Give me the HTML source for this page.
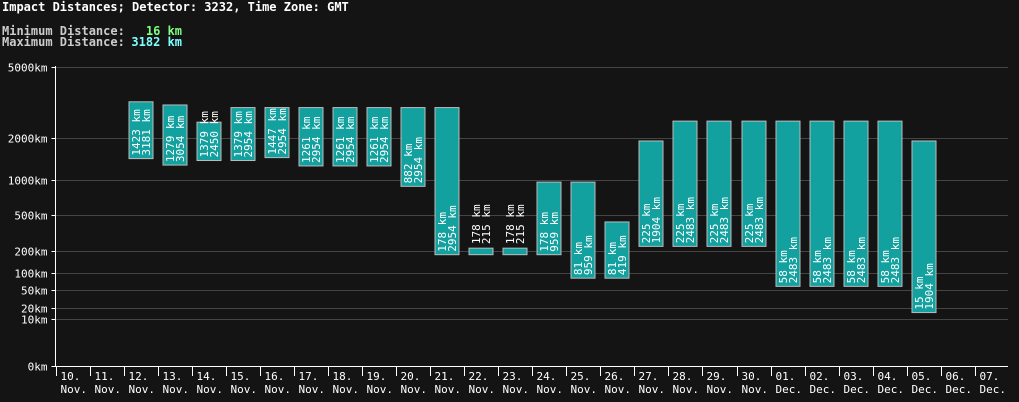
<!DOCTYPE html>
<html><head><meta charset="utf-8">
<style>
html,body{margin:0;padding:0;background:#141414;}
svg{display:block;font-family:"DejaVu Sans Mono","Liberation Mono",monospace;}
</style></head>
<body>
<svg id="chart" width="1019" height="402" viewBox="0 0 1019 402" xmlns="http://www.w3.org/2000/svg">
<rect x="0" y="0" width="1019" height="402" fill="#141414"/>
<text x="2" y="11" fill="#ffffff" font-size="12" font-weight="bold">Impact Distances; Detector: 3232, Time Zone: GMT</text>
<text x="2" y="35" fill="#cccccc" font-size="12" font-weight="bold">Minimum Distance:</text>
<text x="182" y="35" fill="#7fff7f" font-size="12" font-weight="bold" text-anchor="end">16 km</text>
<text x="2" y="46" fill="#cccccc" font-size="12" font-weight="bold">Maximum Distance:</text>
<text x="182" y="46" fill="#7fffff" font-size="12" font-weight="bold" text-anchor="end">3182 km</text>
<g id="grid"></g>
<g id="bars"></g>
<g id="axes"></g>
</svg>
<script>
const categories=["10.","11.","12.","13.","14.","15.","16.","17.","18.","19.","20.","21.","22.","23.","24.","25.","26.","27.","28.","29.","30.","01.","02.","03.","04.","05.","06.","07."];
const months=["Nov.","Nov.","Nov.","Nov.","Nov.","Nov.","Nov.","Nov.","Nov.","Nov.","Nov.","Nov.","Nov.","Nov.","Nov.","Nov.","Nov.","Nov.","Nov.","Nov.","Nov.","Dec.","Dec.","Dec.","Dec.","Dec.","Dec.","Dec."];
const minValues=[null,null,1423,1279,1379,1379,1447,1261,1261,1261,882,178,178,178,178,81,81,225,225,225,225,58,58,58,58,15,null,null];
const maxValues=[null,null,3181,3054,2450,2954,2954,2954,2954,2954,2954,2954,215,215,959,959,419,1904,2483,2483,2483,2483,2483,2483,2483,1904,null,null];
const tickValues=[0,10,20,50,100,200,500,1000,2000,5000];
const tickLabels=["0km","10km","20km","50km","100km","200km","500km","1000km","2000km","5000km"];

const NS="http://www.w3.org/2000/svg";
const tickPix=[366,319,308,290,273,251,215,180,138,66.5];
const X0=55.5,CW=34.05;
function yScale(v){
  if(v<=0)return tickPix[0];
  if(v<=tickValues[1])return tickPix[0]+(tickPix[1]-tickPix[0])*v/tickValues[1];
  for(let i=1;i<tickValues.length-1;i++){
    if(v<=tickValues[i+1]||i==tickValues.length-2){
      const t=Math.log(v/tickValues[i])/Math.log(tickValues[i+1]/tickValues[i]);
      return tickPix[i]+(tickPix[i+1]-tickPix[i])*t;
    }
  }
}
function xScale(i){return X0+i*CW;}
function mk(tag,attrs,parent){const e=document.createElementNS(NS,tag);for(const k in attrs)e.setAttribute(k,attrs[k]);parent.appendChild(e);return e;}
const grid=document.getElementById('grid'),bars=document.getElementById('bars'),axes=document.getElementById('axes');
const xEnd=1008;
tickValues.forEach((v,i)=>{
  const y=Math.round(yScale(v))+0.5;
  if(i>0){
    const gl=mk('line',{x1:X0,x2:xEnd,y1:y,y2:y,stroke:'#444','stroke-width':1},grid);
    
    
  }
  const tk=mk('line',{x1:X0-4,x2:X0,y1:y,y2:y,stroke:'#fff'},axes);
  
  
  const t=mk('text',{x:X0-8,y:y+4,fill:'#fff','font-size':11,'text-anchor':'end'},axes);
  t.textContent=tickLabels[i];
  
  
});
const ya=mk('line',{x1:X0,x2:X0,y1:66,y2:366,stroke:'#fff'},axes);


const xa=mk('line',{x1:X0,x2:xEnd,y1:366.5,y2:366.5,stroke:'#fff'},axes);


categories.forEach((c,i)=>{
  const x=Math.round(xScale(i))+0.5;
  const tk=mk('line',{x1:x,x2:x,y1:366,y2:376,stroke:'#fff'},axes);
  
  
  const t1=mk('text',{x:x+4,y:380,fill:'#fff','font-size':11},axes);
  t1.textContent=c;
  
  
  const t2=mk('text',{x:x+4,y:393,fill:'#fff','font-size':11},axes);
  t2.textContent=months[i];
  
  
  if(minValues[i]==null)return;
  const yt=yScale(maxValues[i]),yb=yScale(minValues[i]);
  const bx=Math.round(xScale(i))+5;
  const r=mk('rect',{x:bx,y:yt,width:24,height:Math.max(yb-yt,1),fill:'#13a19f',stroke:'#bbbbbb','stroke-width':1},bars);
  
  
  const base=(yb-yt)<15?yt-4:yb-3;
  [[minValues[i],7],[maxValues[i],17]].forEach(([v,dx],k)=>{
    const tx=bx+dx+4;
    const t=mk('text',{x:tx,y:base,fill:'#fff','font-size':11,transform:`rotate(-90 ${tx} ${base})`},bars);
    t.textContent=v+' km';
    
    
  });
});
</script>
</body></html>
